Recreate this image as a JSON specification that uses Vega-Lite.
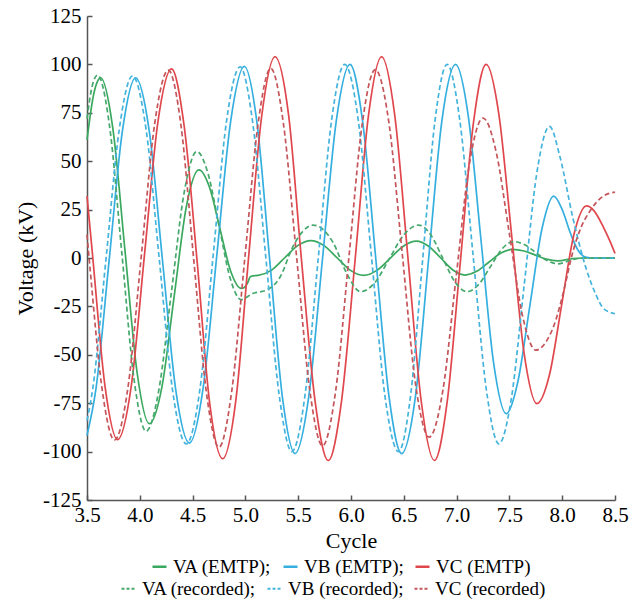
{
  "$schema": "https://vega.github.io/schema/vega-lite/v6.json",
  "width": 528,
  "height": 484,
  "autosize": {"type": "none"},
  "padding": {"left": 87, "top": 16, "right": 29, "bottom": 111},
  "background": "white",
  "config": {
    "view": {"stroke": null},
    "font": "Liberation Serif",
    "axis": {
      "labelFont": "Liberation Serif", "labelFontSize": 21, "labelColor": "#000",
      "titleFont": "Liberation Serif", "titleFontSize": 22, "titleFontWeight": "normal", "titleColor": "#000",
      "grid": false, "domainColor": "#555", "domainWidth": 1.5, "labelFlush": false,
      "tickColor": "#555", "tickWidth": 1.5, "tickSize": -5
    },
    "legend": {"labelFont": "Liberation Serif", "labelFontSize": 19, "labelColor": "#000"}
  },
  "data": {"values": [
    {"c":3.5,"v":61,"s":"VA (EMTP)"},{"c":3.565,"v":85,"s":"VA (EMTP)"},{"c":3.63,"v":93,"s":"VA (EMTP)"},{"c":3.745,"v":66.8,"s":"VA (EMTP)"},{"c":3.86,"v":3.7,"s":"VA (EMTP)"},{"c":3.975,"v":-59.4,"s":"VA (EMTP)"},{"c":4.09,"v":-85.6,"s":"VA (EMTP)"},{"c":4.21,"v":-66.4,"s":"VA (EMTP)"},{"c":4.325,"v":-20,"s":"VA (EMTP)"},{"c":4.44,"v":26.3,"s":"VA (EMTP)"},{"c":4.56,"v":45.5,"s":"VA (EMTP)"},{"c":4.66,"v":36.5,"s":"VA (EMTP)"},{"c":4.76,"v":14.9,"s":"VA (EMTP)"},{"c":4.86,"v":-6.7,"s":"VA (EMTP)"},{"c":4.96,"v":-15.7,"s":"VA (EMTP)"},{"c":4.99,"v":-15.2,"s":"VA (EMTP)"},{"c":5.02,"v":-13,"s":"VA (EMTP)"},{"c":5.045,"v":-9.8,"s":"VA (EMTP)"},{"c":5.07,"v":-9.2,"s":"VA (EMTP)"},{"c":5.12,"v":-9,"s":"VA (EMTP)"},{"c":5.245,"v":-6.4,"s":"VA (EMTP)"},{"c":5.37,"v":0,"s":"VA (EMTP)"},{"c":5.495,"v":6.4,"s":"VA (EMTP)"},{"c":5.62,"v":9,"s":"VA (EMTP)"},{"c":5.745,"v":6.4,"s":"VA (EMTP)"},{"c":5.87,"v":0,"s":"VA (EMTP)"},{"c":5.995,"v":-6.4,"s":"VA (EMTP)"},{"c":6.12,"v":-9,"s":"VA (EMTP)"},{"c":6.245,"v":-6.4,"s":"VA (EMTP)"},{"c":6.37,"v":-0.2,"s":"VA (EMTP)"},{"c":6.495,"v":6.1,"s":"VA (EMTP)"},{"c":6.62,"v":8.7,"s":"VA (EMTP)"},{"c":6.735,"v":6.1,"s":"VA (EMTP)"},{"c":6.85,"v":0,"s":"VA (EMTP)"},{"c":6.965,"v":-6.2,"s":"VA (EMTP)"},{"c":7.08,"v":-8.8,"s":"VA (EMTP)"},{"c":7.19,"v":-6.9,"s":"VA (EMTP)"},{"c":7.305,"v":-2.2,"s":"VA (EMTP)"},{"c":7.42,"v":2.6,"s":"VA (EMTP)"},{"c":7.53,"v":4.5,"s":"VA (EMTP)"},{"c":7.64,"v":3.6,"s":"VA (EMTP)"},{"c":7.745,"v":1.5,"s":"VA (EMTP)"},{"c":7.85,"v":-0.6,"s":"VA (EMTP)"},{"c":7.96,"v":-1.5,"s":"VA (EMTP)"},{"c":8.1,"v":-0.3,"s":"VA (EMTP)"},{"c":8.2,"v":0,"s":"VA (EMTP)"},{"c":8.5,"v":0,"s":"VA (EMTP)"},

    {"c":3.5,"v":-91.6,"s":"VB (EMTP)"},{"c":3.585,"v":-67.5,"s":"VB (EMTP)"},{"c":3.71,"v":-1,"s":"VB (EMTP)"},{"c":3.835,"v":65.5,"s":"VB (EMTP)"},{"c":3.96,"v":93,"s":"VB (EMTP)"},{"c":4.09,"v":65.4,"s":"VB (EMTP)"},{"c":4.215,"v":-1.3,"s":"VB (EMTP)"},{"c":4.34,"v":-68,"s":"VB (EMTP)"},{"c":4.47,"v":-95.6,"s":"VB (EMTP)"},{"c":4.6,"v":-67.1,"s":"VB (EMTP)"},{"c":4.73,"v":1.7,"s":"VB (EMTP)"},{"c":4.86,"v":70.5,"s":"VB (EMTP)"},{"c":4.99,"v":99,"s":"VB (EMTP)"},{"c":5.11,"v":69.7,"s":"VB (EMTP)"},{"c":5.23,"v":-1,"s":"VB (EMTP)"},{"c":5.35,"v":-71.7,"s":"VB (EMTP)"},{"c":5.47,"v":-101,"s":"VB (EMTP)"},{"c":5.6,"v":-71.6,"s":"VB (EMTP)"},{"c":5.73,"v":-0.5,"s":"VB (EMTP)"},{"c":5.86,"v":70.6,"s":"VB (EMTP)"},{"c":5.99,"v":100,"s":"VB (EMTP)"},{"c":6.11,"v":70.6,"s":"VB (EMTP)"},{"c":6.235,"v":-0.5,"s":"VB (EMTP)"},{"c":6.36,"v":-71.6,"s":"VB (EMTP)"},{"c":6.48,"v":-101,"s":"VB (EMTP)"},{"c":6.61,"v":-71.6,"s":"VB (EMTP)"},{"c":6.735,"v":-0.5,"s":"VB (EMTP)"},{"c":6.86,"v":70.6,"s":"VB (EMTP)"},{"c":6.99,"v":100,"s":"VB (EMTP)"},{"c":7.11,"v":73.6,"s":"VB (EMTP)"},{"c":7.23,"v":9.8,"s":"VB (EMTP)"},{"c":7.35,"v":-54,"s":"VB (EMTP)"},{"c":7.47,"v":-80.4,"s":"VB (EMTP)"},{"c":7.58,"v":-63.9,"s":"VB (EMTP)"},{"c":7.695,"v":-24.2,"s":"VB (EMTP)"},{"c":7.81,"v":15.5,"s":"VB (EMTP)"},{"c":7.92,"v":32,"s":"VB (EMTP)"},{"c":8.0,"v":25,"s":"VB (EMTP)"},{"c":8.08,"v":12.5,"s":"VB (EMTP)"},{"c":8.15,"v":4,"s":"VB (EMTP)"},{"c":8.22,"v":0.5,"s":"VB (EMTP)"},{"c":8.3,"v":0,"s":"VB (EMTP)"},{"c":8.5,"v":0,"s":"VB (EMTP)"},

    {"c":3.5,"v":32,"s":"VC (EMTP)"},{"c":3.55,"v":3,"s":"VC (EMTP)"},{"c":3.67,"v":-66,"s":"VC (EMTP)"},{"c":3.79,"v":-93.8,"s":"VC (EMTP)"},{"c":3.92,"v":-65.8,"s":"VC (EMTP)"},{"c":4.045,"v":2,"s":"VC (EMTP)"},{"c":4.17,"v":69.7,"s":"VC (EMTP)"},{"c":4.3,"v":97.7,"s":"VC (EMTP)"},{"c":4.42,"v":68.2,"s":"VC (EMTP)"},{"c":4.545,"v":-3,"s":"VC (EMTP)"},{"c":4.66,"v":-74.2,"s":"VC (EMTP)"},{"c":4.785,"v":-103.7,"s":"VC (EMTP)"},{"c":4.91,"v":-73.3,"s":"VC (EMTP)"},{"c":5.03,"v":0.2,"s":"VC (EMTP)"},{"c":5.155,"v":73.6,"s":"VC (EMTP)"},{"c":5.28,"v":104,"s":"VC (EMTP)"},{"c":5.41,"v":73.4,"s":"VC (EMTP)"},{"c":5.53,"v":-0.3,"s":"VC (EMTP)"},{"c":5.66,"v":-74,"s":"VC (EMTP)"},{"c":5.785,"v":-104.6,"s":"VC (EMTP)"},{"c":5.91,"v":-74,"s":"VC (EMTP)"},{"c":6.04,"v":-0.3,"s":"VC (EMTP)"},{"c":6.165,"v":73.4,"s":"VC (EMTP)"},{"c":6.29,"v":104,"s":"VC (EMTP)"},{"c":6.415,"v":73.4,"s":"VC (EMTP)"},{"c":6.54,"v":-0.3,"s":"VC (EMTP)"},{"c":6.665,"v":-74,"s":"VC (EMTP)"},{"c":6.79,"v":-104.6,"s":"VC (EMTP)"},{"c":6.91,"v":-74.6,"s":"VC (EMTP)"},{"c":7.035,"v":-2.3,"s":"VC (EMTP)"},{"c":7.16,"v":70,"s":"VC (EMTP)"},{"c":7.28,"v":100,"s":"VC (EMTP)"},{"c":7.4,"v":74.3,"s":"VC (EMTP)"},{"c":7.52,"v":12.4,"s":"VC (EMTP)"},{"c":7.64,"v":-49.5,"s":"VC (EMTP)"},{"c":7.76,"v":-75.2,"s":"VC (EMTP)"},{"c":7.88,"v":-60.2,"s":"VC (EMTP)"},{"c":7.995,"v":-24.2,"s":"VC (EMTP)"},{"c":8.11,"v":11.9,"s":"VC (EMTP)"},{"c":8.23,"v":26.9,"s":"VC (EMTP)"},{"c":8.3,"v":24.5,"s":"VC (EMTP)"},{"c":8.39,"v":16,"s":"VC (EMTP)"},{"c":8.45,"v":9,"s":"VC (EMTP)"},{"c":8.5,"v":2.4,"s":"VC (EMTP)"},

    {"c":3.5,"v":72,"s":"VA (recorded)"},{"c":3.55,"v":89,"s":"VA (recorded)"},{"c":3.6,"v":94.5,"s":"VA (recorded)"},{"c":3.715,"v":67.5,"s":"VA (recorded)"},{"c":3.83,"v":2.5,"s":"VA (recorded)"},{"c":3.945,"v":-62.5,"s":"VA (recorded)"},{"c":4.06,"v":-89.5,"s":"VA (recorded)"},{"c":4.18,"v":-68.3,"s":"VA (recorded)"},{"c":4.3,"v":-17.3,"s":"VA (recorded)"},{"c":4.42,"v":33.8,"s":"VA (recorded)"},{"c":4.54,"v":55,"s":"VA (recorded)"},{"c":4.645,"v":43.8,"s":"VA (recorded)"},{"c":4.75,"v":16.8,"s":"VA (recorded)"},{"c":4.855,"v":-10.3,"s":"VA (recorded)"},{"c":4.96,"v":-21.5,"s":"VA (recorded)"},{"c":5.07,"v":-18.3,"s":"VA (recorded)"},{"c":5.2,"v":-16.6,"s":"VA (recorded)"},{"c":5.33,"v":-9.7,"s":"VA (recorded)"},{"c":5.45,"v":5.9,"s":"VA (recorded)"},{"c":5.54,"v":13.5,"s":"VA (recorded)"},{"c":5.64,"v":17,"s":"VA (recorded)"},{"c":5.74,"v":14.5,"s":"VA (recorded)"},{"c":5.83,"v":8,"s":"VA (recorded)"},{"c":5.96,"v":-8,"s":"VA (recorded)"},{"c":6.09,"v":-17.4,"s":"VA (recorded)"},{"c":6.23,"v":-12.4,"s":"VA (recorded)"},{"c":6.365,"v":-0.2,"s":"VA (recorded)"},{"c":6.5,"v":12,"s":"VA (recorded)"},{"c":6.64,"v":17,"s":"VA (recorded)"},{"c":6.755,"v":12,"s":"VA (recorded)"},{"c":6.87,"v":-0.2,"s":"VA (recorded)"},{"c":6.985,"v":-12.4,"s":"VA (recorded)"},{"c":7.1,"v":-17.4,"s":"VA (recorded)"},{"c":7.21,"v":-13.6,"s":"VA (recorded)"},{"c":7.32,"v":-4.5,"s":"VA (recorded)"},{"c":7.43,"v":4.7,"s":"VA (recorded)"},{"c":7.54,"v":8.5,"s":"VA (recorded)"},{"c":7.645,"v":6.8,"s":"VA (recorded)"},{"c":7.75,"v":2.8,"s":"VA (recorded)"},{"c":7.855,"v":-1.3,"s":"VA (recorded)"},{"c":7.96,"v":-3,"s":"VA (recorded)"},{"c":8.1,"v":-0.8,"s":"VA (recorded)"},{"c":8.2,"v":0,"s":"VA (recorded)"},{"c":8.5,"v":0,"s":"VA (recorded)"},

    {"c":3.5,"v":-84,"s":"VB (recorded)"},{"c":3.555,"v":-67.3,"s":"VB (recorded)"},{"c":3.68,"v":-0.5,"s":"VB (recorded)"},{"c":3.805,"v":66.3,"s":"VB (recorded)"},{"c":3.93,"v":94,"s":"VB (recorded)"},{"c":4.06,"v":66.2,"s":"VB (recorded)"},{"c":4.185,"v":-1,"s":"VB (recorded)"},{"c":4.31,"v":-68.2,"s":"VB (recorded)"},{"c":4.44,"v":-96,"s":"VB (recorded)"},{"c":4.57,"v":-67.5,"s":"VB (recorded)"},{"c":4.695,"v":1.4,"s":"VB (recorded)"},{"c":4.82,"v":70.2,"s":"VB (recorded)"},{"c":4.95,"v":98.7,"s":"VB (recorded)"},{"c":5.07,"v":69.6,"s":"VB (recorded)"},{"c":5.195,"v":-0.7,"s":"VB (recorded)"},{"c":5.32,"v":-70.9,"s":"VB (recorded)"},{"c":5.44,"v":-100,"s":"VB (recorded)"},{"c":5.565,"v":-70.7,"s":"VB (recorded)"},{"c":5.69,"v":0,"s":"VB (recorded)"},{"c":5.815,"v":70.7,"s":"VB (recorded)"},{"c":5.94,"v":100,"s":"VB (recorded)"},{"c":6.07,"v":70.7,"s":"VB (recorded)"},{"c":6.195,"v":0,"s":"VB (recorded)"},{"c":6.32,"v":-70.7,"s":"VB (recorded)"},{"c":6.45,"v":-100,"s":"VB (recorded)"},{"c":6.565,"v":-70.7,"s":"VB (recorded)"},{"c":6.68,"v":0,"s":"VB (recorded)"},{"c":6.795,"v":70.7,"s":"VB (recorded)"},{"c":6.91,"v":100,"s":"VB (recorded)"},{"c":7.03,"v":71.3,"s":"VB (recorded)"},{"c":7.155,"v":2,"s":"VB (recorded)"},{"c":7.28,"v":-67.3,"s":"VB (recorded)"},{"c":7.4,"v":-96,"s":"VB (recorded)"},{"c":7.52,"v":-72,"s":"VB (recorded)"},{"c":7.64,"v":-14,"s":"VB (recorded)"},{"c":7.76,"v":44,"s":"VB (recorded)"},{"c":7.88,"v":68,"s":"VB (recorded)"},{"c":7.98,"v":52,"s":"VB (recorded)"},{"c":8.1,"v":21,"s":"VB (recorded)"},{"c":8.23,"v":-6,"s":"VB (recorded)"},{"c":8.32,"v":-19,"s":"VB (recorded)"},{"c":8.39,"v":-26,"s":"VB (recorded)"},{"c":8.5,"v":-28.8,"s":"VB (recorded)"},

    {"c":3.5,"v":12,"s":"VC (recorded)"},{"c":3.525,"v":-3,"s":"VC (recorded)"},{"c":3.64,"v":-66.5,"s":"VC (recorded)"},{"c":3.76,"v":-94,"s":"VC (recorded)"},{"c":3.89,"v":-66,"s":"VC (recorded)"},{"c":4.015,"v":1.5,"s":"VC (recorded)"},{"c":4.14,"v":69,"s":"VC (recorded)"},{"c":4.27,"v":97,"s":"VC (recorded)"},{"c":4.39,"v":68.5,"s":"VC (recorded)"},{"c":4.51,"v":-0.4,"s":"VC (recorded)"},{"c":4.63,"v":-69.2,"s":"VC (recorded)"},{"c":4.75,"v":-97.7,"s":"VC (recorded)"},{"c":4.87,"v":-69,"s":"VC (recorded)"},{"c":4.995,"v":0.2,"s":"VC (recorded)"},{"c":5.12,"v":69.3,"s":"VC (recorded)"},{"c":5.24,"v":98,"s":"VC (recorded)"},{"c":5.36,"v":69.4,"s":"VC (recorded)"},{"c":5.485,"v":0.5,"s":"VC (recorded)"},{"c":5.61,"v":-68.4,"s":"VC (recorded)"},{"c":5.73,"v":-97,"s":"VC (recorded)"},{"c":5.855,"v":-68.5,"s":"VC (recorded)"},{"c":5.98,"v":0.2,"s":"VC (recorded)"},{"c":6.105,"v":68.8,"s":"VC (recorded)"},{"c":6.23,"v":97.3,"s":"VC (recorded)"},{"c":6.36,"v":69.5,"s":"VC (recorded)"},{"c":6.485,"v":2.4,"s":"VC (recorded)"},{"c":6.61,"v":-64.7,"s":"VC (recorded)"},{"c":6.74,"v":-92.5,"s":"VC (recorded)"},{"c":6.87,"v":-68.4,"s":"VC (recorded)"},{"c":6.995,"v":-10.1,"s":"VC (recorded)"},{"c":7.12,"v":48.2,"s":"VC (recorded)"},{"c":7.25,"v":72.3,"s":"VC (recorded)"},{"c":7.375,"v":54.7,"s":"VC (recorded)"},{"c":7.5,"v":12.4,"s":"VC (recorded)"},{"c":7.625,"v":-30,"s":"VC (recorded)"},{"c":7.75,"v":-47.6,"s":"VC (recorded)"},{"c":7.85,"v":-43,"s":"VC (recorded)"},{"c":7.94,"v":-32,"s":"VC (recorded)"},{"c":8.01,"v":-18,"s":"VC (recorded)"},{"c":8.105,"v":4,"s":"VC (recorded)"},{"c":8.18,"v":16,"s":"VC (recorded)"},{"c":8.26,"v":24,"s":"VC (recorded)"},{"c":8.39,"v":32,"s":"VC (recorded)"},{"c":8.5,"v":34,"s":"VC (recorded)"}
  ]},
  "layer": [
    {
      "transform": [{"filter": {"field": "s", "oneOf": ["VA (EMTP)", "VB (EMTP)", "VC (EMTP)"]}}],
      "mark": {"type": "line", "interpolate": "monotone", "strokeWidth": 1.7},
      "encoding": {
        "x": {"field": "c", "type": "quantitative", "title": "Cycle",
              "scale": {"domain": [3.5, 8.5], "nice": false, "zero": false},
              "axis": {"values": [3.5, 4, 4.5, 5, 5.5, 6, 6.5, 7, 7.5, 8, 8.5], "format": ".1f", "labelPadding": 9, "titlePadding": 5, "labelFlush": false}},
        "y": {"field": "v", "type": "quantitative", "title": "Voltage (kV)",
              "scale": {"domain": [-125, 125], "nice": false},
              "axis": {"values": [-125, -100, -75, -50, -25, 0, 25, 50, 75, 100, 125], "labelExpr": "'' + datum.value", "labelPadding": 11, "titlePadding": 5, "labelFlush": false}},
        "color": {"field": "s", "type": "nominal",
                  "scale": {"domain": ["VA (EMTP)", "VB (EMTP)", "VC (EMTP)"], "range": ["#3aa85e", "#35afdf", "#e0474d"]},
                  "legend": {"orient": "none", "legendX": 63, "legendY": 541, "direction": "horizontal", "title": null,
                             "symbolType": "stroke", "symbolSize": 196, "symbolStrokeWidth": 2.5, "padding": 0,
                             "labelFontSize": 19, "labelColor": "#000", "labelOffset": 4, "columnPadding": 6,
                             "labelExpr": "datum.label == 'VC (EMTP)' ? datum.label : datum.label + ';'"}}
      }
    },
    {
      "transform": [{"filter": {"field": "s", "oneOf": ["VA (recorded)", "VB (recorded)", "VC (recorded)"]}}],
      "mark": {"type": "line", "interpolate": "monotone", "strokeWidth": 1.7, "strokeDash": [5, 3]},
      "encoding": {
        "x": {"field": "c", "type": "quantitative"},
        "y": {"field": "v", "type": "quantitative"},
        "stroke": {"field": "s", "type": "nominal",
                   "scale": {"domain": ["VA (recorded)", "VB (recorded)", "VC (recorded)"], "range": ["#45a86c", "#45b4dc", "#c4555a"]},
                   "legend": {"orient": "none", "legendX": 32, "legendY": 563, "direction": "horizontal", "title": null,
                              "symbolType": "stroke", "symbolSize": 196, "symbolStrokeWidth": 2, "symbolDash": [3, 2], "padding": 0,
                              "labelFontSize": 19, "labelColor": "#000", "labelOffset": 4, "columnPadding": 6,
                              "labelExpr": "datum.label == 'VC (recorded)' ? datum.label : datum.label + ';'"}}
      }
    }
  ]
}
